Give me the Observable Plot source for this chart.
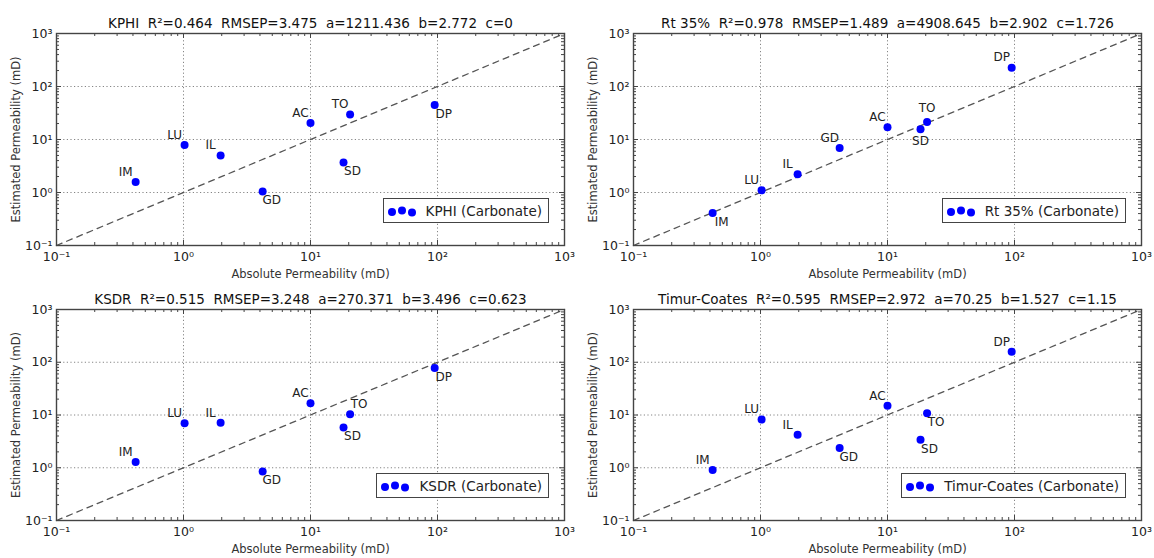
<!DOCTYPE html>
<html><head><meta charset="utf-8">
<script src="https://cdn.jsdelivr.net/npm/d3@7"></script>
<script src="https://cdn.jsdelivr.net/npm/@observablehq/plot@0.6"></script>
<style>
body{margin:0;background:#fff;font-family:"DejaVu Sans",sans-serif;}
#fig{position:relative;width:1154px;height:558px;overflow:hidden;}
.panel{position:absolute;width:577px;height:279px;}
.legend{position:absolute;box-sizing:border-box;height:25px;border:1.5px solid #444;background:#fff;font:13.5px "DejaVu Sans",sans-serif;color:#222;display:flex;align-items:center;padding:0 6px 0 0;white-space:nowrap;}
.legend svg{display:block;margin-right:4px;}
</style></head><body><div id="fig"></div>
<script>
// ---- data ----
const samples = ["IM", "LU", "IL", "GD", "AC", "TO", "SD", "DP"];
const absolutePerm = [0.42, 1.02, 1.96, 4.2, 10, 20.5, 18.2, 95];
const kphiEst = [1.58, 7.9, 5.0, 1.05, 20.5, 29.6, 3.7, 45];
const rt35Est = [0.41, 1.1, 2.2, 6.9, 17, 21.4, 15.6, 227];
const ksdrEst = [1.28, 6.95, 7.15, 0.85, 16.7, 10.3, 5.8, 78];
const timurEst = [0.91, 8.2, 4.2, 2.37, 15, 10.8, 3.4, 158];
const methods = ["KPHI", "Rt 35%", "KSDR", "Timur-Coates"];
const r2Values = ["0.464", "0.978", "0.515", "0.595"];
const rmsepValues = ["3.475", "1.489", "3.248", "2.972"];
const aValues = ["1211.436", "4908.645", "270.371", "70.25"];
const bValues = ["2.772", "2.902", "3.496", "1.527"];
const cValues = ["0", "1.726", "0.623", "1.15"];
const decadeTicks = [0.1, 1, 10, 100, 1000];
const identityLine = [0.1, 1000];
const xLabel = "Absolute Permeability (mD)";
const yLabel = "Estimated Permeability (mD)";
const lithology = "Carbonate";

// ---- layout (code-level, not data) ----
const estimates = [kphiEst, rt35Est, ksdrEst, timurEst];
const labelPlacement = [
  ["ul","ul","ul","lr","ul","ul","lr","lr"],
  ["lr","ul","ul","ul","ul","u","d","ul"],
  ["ul","ul","ul","lr","ul","ur","lr","lr"],
  ["ul","ul","ul","lr","ul","lr","lr","ul"]
];
const offsets = {ul:[-10,-10], lr:[9,9], u:[0,-14], d:[0,12], ur:[9,-10]};
const minorTicks = [];
for (const d of decadeTicks.slice(0, -1)) for (let k = 2; k <= 9; k++) minorTicks.push(d * k);
const supMap = {"-":"⁻","0":"⁰","1":"¹","2":"²","3":"³","4":"⁴","5":"⁵","6":"⁶","7":"⁷","8":"⁸","9":"⁹"};
const fmt = d => "10" + String(Math.round(Math.log10(d))).split("").map(c => supMap[c]).join("");
const gap = "\u00a0\u00a0";

const fig = document.getElementById("fig");
const W = 577, H = 279;

methods.forEach((m, i) => {
  const col = i % 2, row = Math.floor(i / 2);
  const mt = row === 0 ? 33 : 30, mb = row === 0 ? 34 : 38, ml = 56, mr = 13;
  const pw = W - ml - mr, ph = H - mt - mb;
  const est = estimates[i];
  const data = samples.map((s, j) => ({s, x: absolutePerm[j], y: est[j], pos: labelPlacement[i][j]}));
  const title = [m, `R²=${r2Values[i]}`, `RMSEP=${rmsepValues[i]}`, `a=${aValues[i]}`, `b=${bValues[i]}`, `c=${cValues[i]}`].join(gap);
  const tickStroke = {stroke: "#444", strokeWidth: 1};
  const labelMarks = Object.keys(offsets).map(k =>
    Plot.text(data.filter(d => d.pos === k), {x: "x", y: "y", text: "s", dx: offsets[k][0], dy: offsets[k][1], fontSize: 12, fill: "#222"}));
  const svg = Plot.plot({
    width: W, height: H,
    marginTop: mt, marginBottom: mb, marginLeft: ml, marginRight: mr,
    x: {type: "log", domain: [0.1, 1000]},
    y: {type: "log", domain: [0.1, 1000]},
    style: {fontFamily: "DejaVu Sans, sans-serif", fontSize: "11px", color: "#222", background: "#fff", overflow: "visible"},
    marks: [
      Plot.gridX(decadeTicks.slice(1, -1), {stroke: "#666", strokeOpacity: 1, strokeWidth: 0.8, strokeDasharray: "1.2,2.4"}),
      Plot.gridY(decadeTicks.slice(1, -1), {stroke: "#666", strokeOpacity: 1, strokeWidth: 0.8, strokeDasharray: "1.2,2.4"}),
      Plot.line(identityLine, {x: d => d, y: d => d, stroke: "#555", strokeWidth: 1.3, strokeDasharray: "6,5"}),
      Plot.tickX(decadeTicks, {x: d => d, insetTop: ph - 5, ...tickStroke}),
      Plot.tickX(decadeTicks, {x: d => d, insetBottom: ph - 5, ...tickStroke}),
      Plot.tickX(minorTicks, {x: d => d, insetTop: ph - 3, ...tickStroke}),
      Plot.tickX(minorTicks, {x: d => d, insetBottom: ph - 3, ...tickStroke}),
      Plot.tickY(decadeTicks, {y: d => d, insetRight: pw - 5, ...tickStroke}),
      Plot.tickY(decadeTicks, {y: d => d, insetLeft: pw - 5, ...tickStroke}),
      Plot.tickY(minorTicks, {y: d => d, insetRight: pw - 3, ...tickStroke}),
      Plot.tickY(minorTicks, {y: d => d, insetLeft: pw - 3, ...tickStroke}),
      Plot.frame({stroke: "#444", strokeWidth: 1.4}),
      Plot.dot(data, {x: "x", y: "y", r: 4, fill: "#0000ff", stroke: "none"}),
      ...labelMarks,
      Plot.axisX(decadeTicks, {tickSize: 0, tickPadding: 7, tickFormat: fmt, label: null, fontSize: 12.5, fill: "#222"}),
      Plot.axisY(decadeTicks, {tickSize: 0, tickPadding: 4, tickFormat: fmt, label: null, fontSize: 12.5, fill: "#222"}),
      Plot.text([title], {frameAnchor: "top", dy: -10, lineAnchor: "middle", textAnchor: "middle", fontSize: 13.5, fill: "#111"}),
      Plot.text([xLabel], {frameAnchor: "bottom", dy: 29, lineAnchor: "middle", textAnchor: "middle", fontSize: 11.5, fill: "#333"}),
      Plot.text([yLabel], {frameAnchor: "left", dx: -40, rotate: -90, lineAnchor: "middle", textAnchor: "middle", fontSize: 11.5, fill: "#333"})
    ]
  });
  const div = document.createElement("div");
  div.className = "panel";
  div.style.left = (col * W) + "px";
  div.style.top = (row * H) + "px";
  div.appendChild(svg);
  const lg = document.createElement("div");
  lg.className = "legend";
  lg.style.right = (mr + 15) + "px";
  lg.style.top = (mt + ph - 22 - 25) + "px";
  lg.innerHTML = `<svg width="38" height="22"><circle cx="8" cy="12" r="4" fill="#0000ff"/><circle cx="18" cy="10.5" r="4" fill="#0000ff"/><circle cx="28" cy="12.5" r="4" fill="#0000ff"/></svg><span>${m} (${lithology})</span>`;
  div.appendChild(lg);
  fig.appendChild(div);
});
</script></body></html>
